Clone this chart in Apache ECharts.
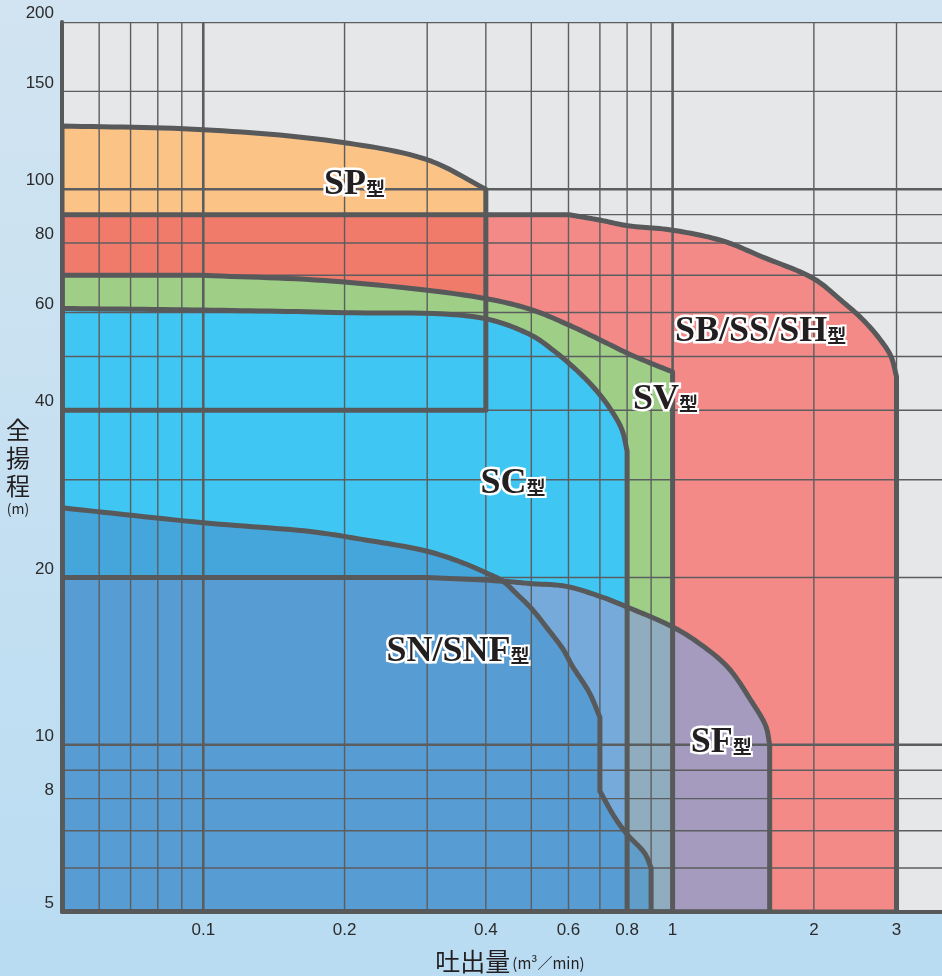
<!DOCTYPE html>
<html><head><meta charset="utf-8">
<script src="https://cdn.jsdelivr.net/npm/echarts@6/dist/echarts.min.js"></script>
<style>html,body{margin:0;padding:0;width:942px;height:976px;overflow:hidden}#c{width:942px;height:976px}</style>
</head><body><div id="c"></div>
<script>
// ---- axes ----
const xTickLabels = [0.1, 0.2, 0.4, 0.6, 0.8, 1, 2, 3];
const yTickLabels = [5, 8, 10, 20, 40, 60, 80, 100, 150, 200];
const xGridMinor = [0.06, 0.07, 0.08, 0.09, 0.2, 0.3, 0.4, 0.5, 0.6, 0.7, 0.8, 0.9, 2, 3];
const xGridMajor = [0.1, 1];
const yGridMinor = [6, 7, 8, 9, 20, 30, 40, 50, 60, 70, 80, 90, 150];
const yGridMajor = [10, 100, 200];

// ---- pump ranges: [flow m3/min, head m] ----
const spRange = [[0.05,130],[0.1,128],[0.19,122],[0.3,113],[0.4,100],[0.4,40],[0.05,40]];
const sbRange = [[0.05,90],[0.6,90],[0.7,88],[0.8,86],[1,84.4],[1.28,80.7],[1.55,75.6],[2,69],[2.29,63],[2.54,58.3],[2.77,53.6],[2.92,50],[3,46],[3,5],[0.05,5]];
const svRange = [[0.05,70],[0.1,70],[0.19,68.3],[0.39,63.8],[0.5,60.7],[0.6,57],[0.7,53.6],[0.8,50.7],[0.9,48.6],[1,46.9],[1,5],[0.05,5]];
const scRange = [[0.05,61],[0.1,60.6],[0.19,60],[0.39,58.7],[0.5,54.6],[0.55,51.7],[0.62,47.5],[0.685,43.6],[0.74,40],[0.78,36.9],[0.8,33.8],[0.8,5],[0.05,5]];
const sfRange = [[0.05,20],[0.3,20],[0.435,19.7],[0.5,19.5],[0.59,19.3],[0.7,18.5],[0.8,17.7],[1,16.3],[1.13,15.3],[1.31,13.8],[1.47,12],[1.58,10.8],[1.61,10],[1.61,5],[0.05,5]];
const snRange = [[0.05,26.7],[0.1,25.1],[0.169,24.2],[0.213,23.5],[0.3,22.3],[0.355,21.3],[0.4,20.4],[0.435,19.7],[0.465,18.7],[0.5,17.6],[0.541,16.2],[0.586,14.8],[0.61,13.9],[0.665,12.4],[0.7,11.2],[0.7,8.25],[0.753,7.4],[0.8,6.9],[0.873,6.37],[0.9,6],[0.9,5],[0.05,5]];

// ---- region labels ----
const labelNames = ['SP', 'SB/SS/SH', 'SV', 'SC', 'SN/SNF', 'SF'];
const labelSuffix = '型';
const labelPos = [[0.21,102],[1.54,55.4],[0.966,41.8],[0.457,29.5],[0.349,14.7],[1.27,10.1]];

const X_MIN = 0.05, X_MAX = 3.75, Y_MIN = 5, Y_MAX = 200;

// overlap of SB over SP (SP flow range, SP bottom to SB top)
const spXs = spRange.map(p => p[0]);
const spOverlap = [
  [Math.min(...spXs), sbRange[0][1]], [Math.max(...spXs), sbRange[0][1]],
  [Math.max(...spXs), spRange[spRange.length-1][1]], [Math.min(...spXs), spRange[spRange.length-1][1]]
];

const fillLayers = [
  { pts: spRange, color: '#FBC386' },
  { pts: sbRange, color: '#F48A88' },
  { pts: spOverlap, color: '#F17B6B' },
  { pts: svRange, color: '#9FCF87' },
  { pts: scRange, color: '#3FC6F2' },
  { pts: sfRange, color: 'rgba(137,160,209,0.74)' },
  { pts: snRange, color: 'rgba(72,148,207,0.66)' }
];
const outlineLayers = [spRange, sbRange, svRange, scRange, sfRange, snRange];

// rendering helper: keep axis-aligned edges straight, draw the rest as a smooth
// (centripetal Catmull-Rom) curve through the given vertices
function smoothClosed(P) {
  const n = P.length;
  const aligned = (a, b) => Math.abs(a[0] - b[0]) < 0.5 || Math.abs(a[1] - b[1]) < 0.5;
  const lerp = (a, b, ta, tb, T) => {
    const u = (T - ta) / (tb - ta);
    return [a[0] + (b[0] - a[0]) * u, a[1] + (b[1] - a[1]) * u];
  };
  const cr = (p0, p1, p2, p3, s) => {
    const d = (a, b) => Math.max(Math.sqrt(Math.hypot(b[0] - a[0], b[1] - a[1])), 1e-4);
    const t0 = 0, t1 = d(p0, p1), t2 = t1 + d(p1, p2), t3 = t2 + d(p2, p3);
    const T = t1 + (t2 - t1) * s;
    const A1 = lerp(p0, p1, t0, t1, T), A2 = lerp(p1, p2, t1, t2, T), A3 = lerp(p2, p3, t2, t3, T);
    const B1 = lerp(A1, A2, t0, t2, T), B2 = lerp(A2, A3, t1, t3, T);
    return lerp(B1, B2, t1, t2, T);
  };
  const out = [];
  for (let i = 0; i < n; i++) {
    const a = P[i], b = P[(i + 1) % n];
    out.push(a);
    if (aligned(a, b)) continue;
    const prev = P[(i - 1 + n) % n], next = P[(i + 2) % n];
    const p0 = aligned(prev, a) ? [2 * a[0] - b[0], 2 * a[1] - b[1]] : prev;
    const p3 = aligned(b, next) ? [2 * b[0] - a[0], 2 * b[1] - a[1]] : next;
    const steps = 14;
    for (let k = 1; k < steps; k++) out.push(cr(p0, a, b, p3, k / steps));
  }
  return out;
}

const chart = echarts.init(document.getElementById('c'), null, { renderer: 'canvas' });

const option = {
  animation: false,
  backgroundColor: {
    type: 'linear', x: 0, y: 0, x2: 0, y2: 1,
    colorStops: [{ offset: 0, color: '#D2E4F1' }, { offset: 1, color: '#B9DCF2' }]
  },
  grid: { left: 62, right: 0, top: 22, bottom: 64, show: true, backgroundColor: '#E6E7E9', borderWidth: 0,
          containLabel: false, outerBoundsMode: 'none' },
  xAxis: {
    type: 'log', logBase: 10, min: X_MIN, max: X_MAX,
    axisLine: { show: true, onZero: false, lineStyle: { color: '#58595B', width: 4 } },
    axisTick: { show: false },
    splitLine: { show: false },
    minorSplitLine: { show: false },
    axisLabel: {
      customValues: xTickLabels, margin: 10, fontSize: 17, color: '#2b2b2b',
      fontFamily: 'Liberation Sans', formatter: v => String(+(+v).toPrecision(3))
    },
    name: '{a|吐出量}{b|(m³／min)}', nameLocation: 'middle', nameGap: 49, nameMoveOverlap: false,
    nameTextStyle: {
      verticalAlign: 'middle', padding: [0, 0, 0, 16],
      rich: {
        a: { fontSize: 25, fontFamily: 'Noto Sans CJK JP', color: '#231F20' },
        b: { fontSize: 15, fontFamily: 'Noto Sans CJK JP', color: '#231F20', padding: [4, 0, 0, 2] }
      }
    }
  },
  yAxis: {
    type: 'log', logBase: 10, min: Y_MIN, max: Y_MAX,
    axisLine: { show: true, onZero: false, lineStyle: { color: '#58595B', width: 4 } },
    axisTick: { show: false },
    splitLine: { show: false },
    axisLabel: {
      customValues: yTickLabels, margin: 8, fontSize: 17, color: '#2b2b2b',
      fontFamily: 'Liberation Sans', verticalAlign: 'bottom', formatter: v => String(+(+v).toPrecision(3))
    },
    name: '{a|全}\n{a|揚}\n{a|程}\n{b|(m)}', nameLocation: 'middle', nameGap: 32, nameRotate: 0,
    nameMoveOverlap: false,
    nameTextStyle: {
      align: 'right', verticalAlign: 'middle',
      rich: {
        a: { fontSize: 24, lineHeight: 28, fontFamily: 'Noto Sans CJK JP', color: '#231F20', align: 'center' },
        b: { fontSize: 14, lineHeight: 18, fontFamily: 'Noto Sans CJK JP', color: '#231F20', align: 'center' }
      }
    }
  },
  series: [
    {
      type: 'custom', name: 'fills', coordinateSystem: 'cartesian2d', clip: true, z: 1, silent: true,
      encode: { x: 0, y: 1 },
      data: fillLayers.map((l, i) => [1, 10, i]),
      renderItem(params, api) {
        const L = fillLayers[api.value(2)];
        return { type: 'polygon', shape: { points: smoothClosed(L.pts.map(p => api.coord(p))) }, style: { fill: L.color } };
      }
    },
    {
      type: 'custom', name: 'grid', coordinateSystem: 'cartesian2d', clip: true, z: 2, silent: true,
      encode: { x: 0, y: 1 },
      data: [[1, 10]],
      renderItem(params, api) {
        const cs = params.coordSys;
        const children = [];
        const vline = (v, w) => {
          const x = api.coord([v, 10])[0];
          children.push({ type: 'line', shape: { x1: x, y1: cs.y, x2: x, y2: cs.y + cs.height }, style: { stroke: '#5C5D5F', lineWidth: w } });
        };
        const hline = (v, w) => {
          const y = api.coord([1, v])[1];
          children.push({ type: 'line', shape: { x1: cs.x, y1: y, x2: cs.x + cs.width, y2: y }, style: { stroke: '#5C5D5F', lineWidth: w } });
        };
        xGridMinor.forEach(v => vline(v, 1.4));
        xGridMajor.forEach(v => vline(v, 2.6));
        yGridMinor.forEach(v => hline(v, 1.4));
        yGridMajor.forEach(v => hline(v, 2.6));
        return { type: 'group', children };
      }
    },
    {
      type: 'custom', name: 'outlines', coordinateSystem: 'cartesian2d', clip: true, z: 3, silent: true,
      encode: { x: 0, y: 1 },
      data: outlineLayers.map((l, i) => [1, 10, i]),
      renderItem(params, api) {
        const pts = outlineLayers[api.value(2)];
        return { type: 'polygon', shape: { points: smoothClosed(pts.map(p => api.coord(p))) },
          style: { fill: null, stroke: '#58595B', lineWidth: 5, lineJoin: 'round' } };
      }
    },
    {
      type: 'custom', name: 'labels', coordinateSystem: 'cartesian2d', clip: false, z: 4, silent: true,
      encode: { x: 0, y: 1 },
      data: labelPos.map((p, i) => [p[0], p[1], i]),
      renderItem(params, api) {
        const i = api.value(2);
        const c = api.coord([api.value(0), api.value(1)]);
        return {
          type: 'text', x: c[0], y: c[1],
          style: {
            text: '{a|' + labelNames[i] + '}{b|' + labelSuffix + '}',
            align: 'center', verticalAlign: 'middle',
            rich: {
              a: { font: 'bold 36px "Liberation Serif"', fill: '#231F20', stroke: '#FFFFFF', lineWidth: 5 },
              b: { font: 'bold 19px "Noto Sans CJK JP"', fill: '#231F20', stroke: '#FFFFFF', lineWidth: 4, padding: [8, 0, 0, 0] }
            }
          }
        };
      }
    }
  ]
};
chart.setOption(option);
</script>
</body></html>
